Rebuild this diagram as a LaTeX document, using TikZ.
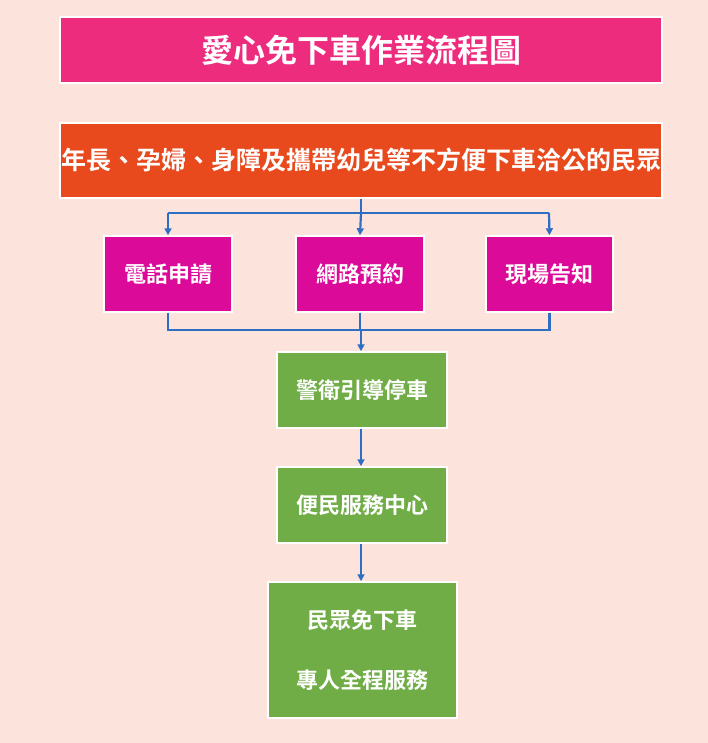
\documentclass[tikz,border=0pt]{standalone}
\usepackage{fontspec}
\newfontfamily\cjk{Noto Sans CJK TC Bold}
\usetikzlibrary{arrows.meta}
\definecolor{bg}{HTML}{FCE4DC}
\definecolor{ttl}{HTML}{EE2C7E}
\definecolor{org}{HTML}{E8491D}
\definecolor{mag}{HTML}{DC0A98}
\definecolor{grn}{HTML}{70AD47}
\definecolor{blu}{HTML}{2E6FC4}
\tikzset{
 box/.style={draw=white,line width=1.5pt,text=white,font=\cjk\fontsize{22}{26}\selectfont,inner sep=0pt},
 con/.style={draw=blu,line width=2.2pt},
 arr/.style={con,-{Triangle[length=7pt,width=7pt]}}
}
\begin{document}
\begin{tikzpicture}[x=1pt,y=-1pt]
\fill[bg] (0,0) rectangle (708,743);
\useasboundingbox (0,0) rectangle (708,743);
\node[box,fill=ttl,minimum width=602pt,minimum height=66pt,font=\cjk\fontsize{32}{36}\selectfont] (t) at (361,50) {愛心免下車作業流程圖};
\node[box,fill=org,minimum width=602pt,minimum height=75pt,font=\cjk\fontsize{25}{30}\selectfont] (o) at (361,160.5) {年長、孕婦、身障及攜帶幼兒等不方便下車洽公的民眾};
\node[box,fill=mag,minimum width=128pt,minimum height=76pt] (m1) at (168,274) {\raisebox{2pt}{電話申請}};
\node[box,fill=mag,minimum width=128pt,minimum height=76pt] (m2) at (360,274) {網路預約};
\node[box,fill=mag,minimum width=127pt,minimum height=76pt] (m3) at (549.5,274) {\raisebox{2pt}{現場告知}};
\node[box,fill=grn,minimum width=170pt,minimum height=76pt] (g1) at (362,390) {警衛引導停車};
\node[box,fill=grn,minimum width=170pt,minimum height=76pt] (g2) at (362,505) {便民服務中心};
\node[box,fill=grn,minimum width=189pt,minimum height=136pt,align=center] (g3) at (362.5,650) {民眾免下車\\[34pt]專人全程服務};
\coordinate (s) at (361,213);
\coordinate (j) at (361,330);
\draw[con] (o.south) -- (s);
\draw[con] (168,213) -- (549,213);
\draw[arr] (168,213) -- (m1.north);
\draw[arr] (s) -- (m2.north);
\draw[arr] (549,213) -- (m3.north);
\draw[con] (m1.south) |- (j) -| (m3.south);
\draw[con] (m2.south) -- (m2.south |- j);
\draw[arr] (j) -- (g1.north -| j);
\draw[arr] (g1.south -| j) -- (g2.north -| j);
\draw[arr] (g2.south -| j) -- (g3.north -| j);
\end{tikzpicture}
\end{document}
